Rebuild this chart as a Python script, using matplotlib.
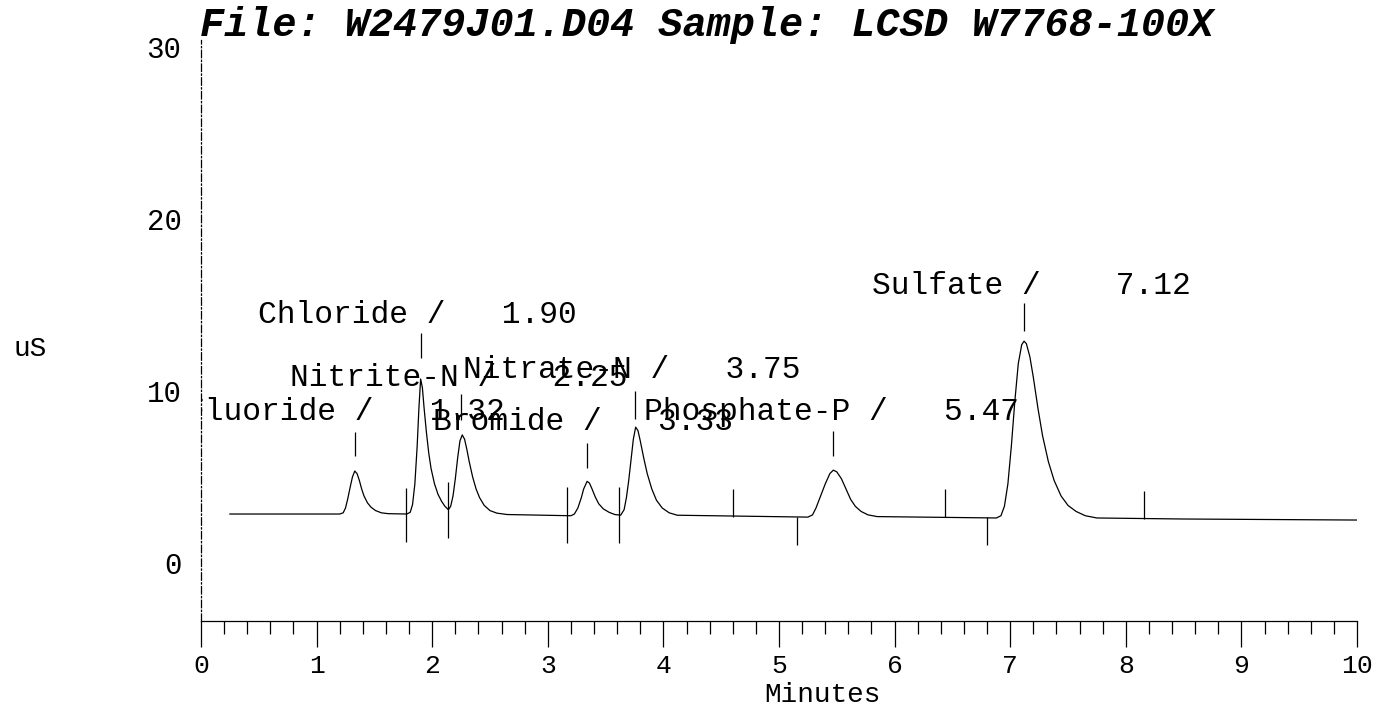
import numpy as np
import matplotlib
matplotlib.use("Agg")
import matplotlib.pyplot as plt
from matplotlib.ticker import MultipleLocator

# Data
TITLE = "File: W2479J01.D04 Sample: LCSD W7768-100X"
PEAK_NAMES = ["Fluoride", "Chloride", "Nitrite-N", "Bromide", "Nitrate-N", "Phosphate-P", "Sulfate"]
PEAK_RT = [1.32, 1.90, 2.25, 3.33, 3.75, 5.47, 7.12]
PEAK_GAP = [3, 3, 3, 3, 3, 3, 4]          # spaces between "/" and the time
# peak-top marker ticks (uS)
MARK_X = [1.33, 1.90, 2.25, 3.34, 3.75, 5.47, 7.12]
MARK_LO = [6.2, 11.9, 8.3, 5.5, 8.4, 6.2, 13.5]
MARK_HI = [7.6, 13.4, 9.8, 7.0, 10.0, 7.7, 15.1]
# integration start/stop ticks
INT_T = [1.77, 2.14, 3.17, 3.62, 4.60, 5.16, 6.44, 6.80, 8.16]
INT_LO = [1.22, 1.45, 1.16, 1.16, 2.70, 1.05, 2.66, 1.05, 2.58]
INT_HI = [4.36, 4.70, 4.40, 4.40, 4.30, 2.68, 4.30, 2.65, 4.20]

# detector trace (minutes, uS)
TRACE_MIN = [0.25, 0.70, 1.20,
             1.23, 1.25, 1.27, 1.29, 1.31, 1.33, 1.35, 1.37, 1.39, 1.41, 1.44, 1.47, 1.51, 1.56, 1.62,
             1.78, 1.81, 1.83, 1.85, 1.87, 1.885, 1.90, 1.915, 1.93, 1.95, 1.97, 1.99, 2.02, 2.05,
             2.08, 2.11, 2.14,
             2.16, 2.18, 2.20, 2.22, 2.24, 2.26, 2.28, 2.30, 2.32, 2.35, 2.38, 2.41, 2.45, 2.50,
             2.56, 2.65,
             3.20, 3.23, 3.26, 3.29, 3.31, 3.34, 3.36, 3.38, 3.41, 3.44, 3.48, 3.53, 3.58,
             3.63, 3.66, 3.68, 3.70, 3.72, 3.74, 3.76, 3.78, 3.80, 3.83, 3.86, 3.90, 3.94, 3.99,
             4.05, 4.12,
             5.25, 5.29, 5.32, 5.36, 5.40, 5.44, 5.47, 5.50, 5.54, 5.58, 5.62, 5.66, 5.71, 5.77, 5.85,
             6.88, 6.92, 6.95, 6.98, 7.01, 7.04, 7.07, 7.10, 7.12, 7.14, 7.17, 7.20, 7.24, 7.28,
             7.33, 7.38, 7.44, 7.50, 7.57, 7.65, 7.75,
             8.50, 10.00]
TRACE_US = [2.85, 2.85, 2.85,
            2.92, 3.20, 3.75, 4.40, 5.00, 5.35, 5.20, 4.80, 4.30, 3.90, 3.50, 3.25, 3.05, 2.92, 2.87,
            2.85, 2.95, 3.40, 4.60, 6.80, 9.00, 10.70, 10.20, 9.00, 7.60, 6.40, 5.50, 4.60, 4.00,
            3.60, 3.30, 3.10,
            3.30, 3.90, 4.90, 6.10, 7.10, 7.45, 7.20, 6.60, 5.90, 5.00, 4.30, 3.80, 3.35, 3.05,
            2.90, 2.82,
            2.75, 2.85, 3.20, 3.80, 4.30, 4.75, 4.65, 4.35, 3.85, 3.45, 3.15, 2.95, 2.82,
            2.78, 3.10, 3.80, 4.80, 6.00, 7.20, 7.90, 7.70, 7.10, 6.10, 5.20, 4.30, 3.65, 3.20,
            2.92, 2.78,
            2.67, 2.80, 3.20, 3.90, 4.60, 5.20, 5.40, 5.30, 4.90, 4.30, 3.70, 3.30, 3.00, 2.80, 2.70,
            2.62, 2.75, 3.30, 4.60, 6.80, 9.40, 11.60, 12.70, 12.90, 12.75, 12.00, 10.80, 9.00, 7.40,
            5.90, 4.80, 3.90, 3.35, 3.00, 2.75, 2.62,
            2.56, 2.50]

# label anchors (left edge in minutes, centre in uS)
LABEL_X = [-0.13, 0.493, 0.770, 2.007, 2.266, 3.832, 5.804]
LABEL_Y = [8.78, 14.42, 10.76, 8.20, 11.22, 8.78, 16.10]

FONT = "Liberation Mono"

fig = plt.figure(figsize=(13.81, 7.15), dpi=100)
ax = fig.add_axes([201 / 1381, 94 / 715, 1156 / 1381, 581 / 715])
ax.set_xlim(0, 10)
ax.set_ylim(-3.37, 30.41)

ax.plot(TRACE_MIN, TRACE_US, color="black", lw=0.9)
ax.vlines(MARK_X, MARK_LO, MARK_HI, color="black", lw=0.9)
ax.vlines(INT_T, INT_LO, INT_HI, color="black", lw=0.9)

for name, rt, gap, lx, ly in zip(PEAK_NAMES, PEAK_RT, PEAK_GAP, LABEL_X, LABEL_Y):
    ax.text(lx, ly, f"{name} /{' ' * gap}{rt:.2f}", family=FONT, fontsize=22.5,
            ha="left", va="center", clip_on=True)

for s in ["top", "right"]:
    ax.spines[s].set_visible(False)
ax.spines["left"].set_linestyle((0, (6, 2, 1, 2)))
ax.spines["left"].set_linewidth(0.9)
ax.spines["bottom"].set_linewidth(0.9)

ax.xaxis.set_major_locator(MultipleLocator(1))
ax.xaxis.set_minor_locator(MultipleLocator(0.2))
ax.tick_params(axis="x", which="major", direction="out", length=19, width=0.9, pad=5,
               labelsize=19)
ax.tick_params(axis="x", which="minor", direction="out", length=9, width=0.9)
ax.set_yticks([0, 10, 20, 30])
ax.tick_params(axis="y", length=0, pad=14, labelsize=21)
for lab in ax.get_xticklabels() + ax.get_yticklabels():
    lab.set_family(FONT)

ax.set_xlabel("Minutes", family=FONT, fontsize=20)
ax.xaxis.label.set_va("center")
ax.xaxis.set_label_coords(0.538, -0.127)

fig.text(200 / 1381, 1 - 25 / 715, TITLE, family=FONT, fontsize=29, fontweight="bold",
         style="italic", ha="left", va="center")
fig.text(30 / 1381, 1 - 349 / 715, "uS", family=FONT, fontsize=20, ha="center", va="center")

fig.savefig("out.png", dpi=100)
